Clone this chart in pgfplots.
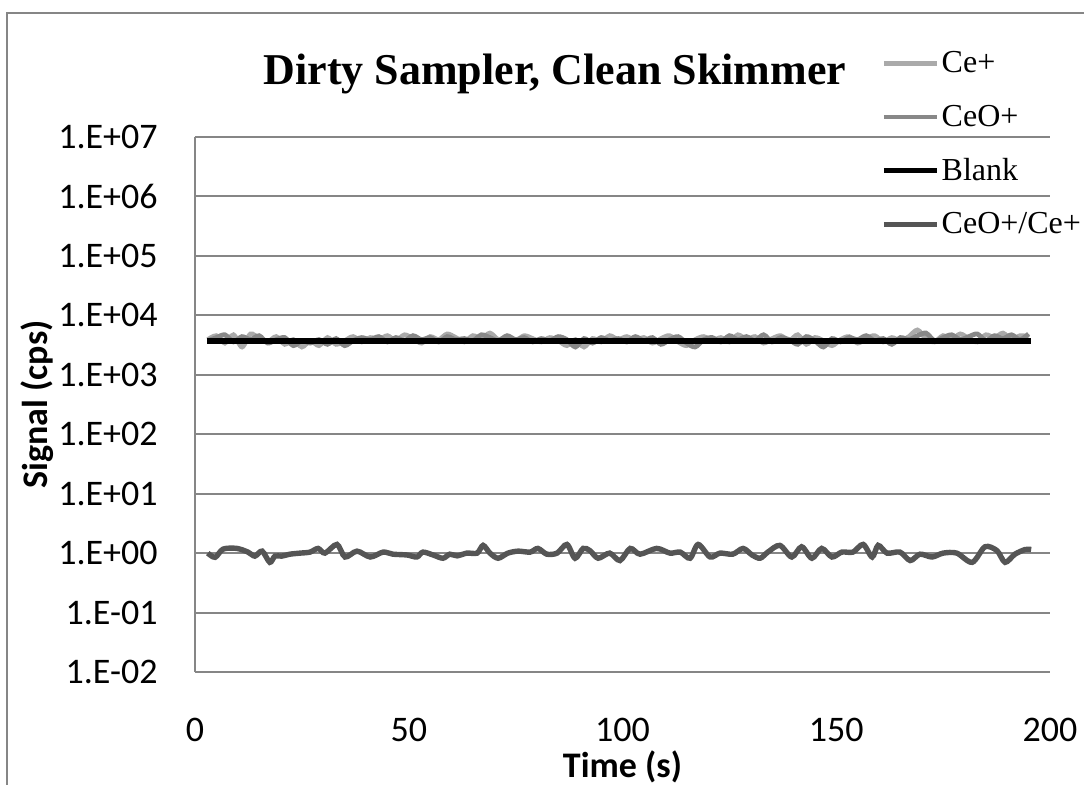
\documentclass[border=0pt]{standalone}
\usepackage{fontspec}
\setmainfont{Carlito}
\newfontfamily\tnr{Liberation Serif}
\usepackage{pgfplots}
\pgfplotsset{compat=1.18}
\definecolor{gridgray}{RGB}{134,134,134}
\definecolor{cegray}{RGB}{170,170,170}
\definecolor{ceogray}{RGB}{136,136,136}
\definecolor{ratiogray}{RGB}{85,85,85}
\begin{document}
\begin{tikzpicture}
\begin{axis}[
  scale only axis,
  width=427.5pt, height=267.5pt,
  xmin=0, xmax=200,
  ymode=log, ymin=1e-2, ymax=1e7,
  xtick={0,50,100,150,200},
  xticklabels={0,50,100,150,200},
  ytick={1e-2,1e-1,1,10,100,1000,1e4,1e5,1e6,1e7},
  yticklabels={1.E-02,1.E-01,1.E+00,1.E+01,1.E+02,1.E+03,1.E+04,1.E+05,1.E+06,1.E+07},
  minor ytick={},
  minor tick length=0pt,
  minor y tick style={draw=none},
  axis x line*=bottom, axis y line*=left,
  axis line style={draw=gridgray, line width=1pt, -},
  major tick length=0pt,
  ymajorgrids,
  grid style={draw=gridgray, line width=1pt},
  ticklabel style={font=\fontsize{18}{21}\selectfont},
  yticklabel style={inner sep=0pt, xshift=-18.5pt},
  xticklabel style={inner sep=0pt, yshift=-23pt},
  xlabel={Time (s)}, ylabel={Signal (cps)},
  label style={font=\bfseries\fontsize{18}{21}\selectfont},
  xlabel style={at={(axis description cs:0.5,-0.178)}, anchor=center},
  ylabel style={at={(axis description cs:-0.185,0.5)}, anchor=center, rotate=0},
  legend style={at={(axis description cs:0.802,1.164)}, anchor=north west,
    draw=none, fill=none, font=\tnr\fontsize{16}{19}\selectfont,
    row sep=12.5pt, inner sep=0pt, nodes={inner sep=1pt, anchor=west}},
  legend cell align=left,
  legend image code/.code={\draw[#1] (0pt,0pt) -- (26.5pt,0pt);},
]
\addplot[cegray, line width=2.4pt, smooth, tension=0.5] table {
x y
3 3900
5 4540
7 3420
9 4700
11 2940
13 4860
15 4060
17 3580
19 4380
21 3260
23 3900
25 2940
27 3740
29 3100
31 4220
33 3260
35 3740
37 4380
39 3580
41 4220
43 3900
45 4540
47 3740
49 4700
51 4060
53 3420
55 4380
57 3900
59 4860
61 4220
63 3580
65 4540
67 4060
69 5020
71 3900
73 4380
75 3740
77 4540
79 4060
81 3580
83 4220
85 3740
87 3100
89 3900
91 2940
93 4060
95 3580
97 4540
99 3900
101 4380
103 3740
105 4220
107 3420
109 4060
111 4540
113 3580
115 3100
117 3900
119 4380
121 3740
123 4220
125 3580
127 4700
129 3900
131 4380
133 3420
135 4060
137 4540
139 3740
141 4700
143 3260
145 4220
147 3740
149 3100
151 3900
153 4380
155 3420
157 4060
159 4540
161 3580
163 4220
165 3740
167 4380
169 5660
171 4060
173 3580
175 4540
177 3900
179 4860
181 4060
183 3580
185 4700
187 4220
189 5020
191 3900
193 4540
195 4380
};
\addlegendentry{Ce+}
\addplot[ceogray, line width=2.4pt, smooth, tension=0.5] table {
x y
3 3740
5 4220
7 4700
9 3580
11 4380
13 3900
15 4540
17 3420
19 3900
21 4220
23 3100
25 3740
27 3420
29 3900
31 3260
33 4060
35 3100
37 3740
39 4220
41 3900
43 4380
45 3580
47 4220
49 3740
51 4540
53 3900
55 4220
57 3580
59 4380
61 3900
63 4060
65 3740
67 4700
69 4220
71 3740
73 4540
75 3900
77 4220
79 3580
81 4060
83 3740
85 4380
87 3900
89 2940
91 4060
93 3420
95 4220
97 3740
99 4060
101 3580
103 4380
105 3740
107 4220
109 3260
111 3900
113 4380
115 3420
117 2940
119 3900
121 4220
123 3580
125 4540
127 3900
129 4380
131 3740
133 4700
135 3580
137 4220
139 3900
141 3260
143 4380
145 3740
147 2940
149 4060
151 3580
153 4220
155 3900
157 4540
159 3740
161 4060
163 3260
165 4220
167 3900
169 4540
171 5020
173 3740
175 4220
177 4700
179 3900
181 4380
183 4860
185 3740
187 4540
189 4060
191 4700
193 3900
195 4860
};
\addlegendentry{CeO+}
\addplot[black, line width=2.8pt] table {
x y
2.8 3700
195.6 3700
};
\addlegendentry{Blank}
\addplot[ratiogray, line width=2.7pt, smooth, tension=0.5] table {
x y
3 1.0
4.7 0.85
6.6 1.17
9.8 1.2
12.4 1.04
14 0.89
15.7 1.08
17.5 0.7
18.7 0.89
20.3 0.89
22.2 0.96
24.6 1.0
26.9 1.04
28.8 1.2
30.4 1.0
33.2 1.4
35.1 0.86
37.9 1.08
41 0.86
44 1.04
46.3 0.96
49.6 0.93
51.9 0.86
53.3 1.04
55.7 0.93
58 0.82
59.6 0.96
61.3 0.9
63.6 1.0
66 1.0
67.4 1.35
69 1.0
70.9 0.82
73.2 1.0
75.6 1.08
78.4 1.04
80.2 1.2
82.3 0.96
84.7 1.0
87 1.4
88.9 0.82
90.8 1.2
92.4 1.1
94.3 0.82
97 1.0
99.4 0.75
101.8 1.2
104.1 0.96
108 1.2
111.1 1.0
113.5 1.04
115.8 0.82
117.7 1.4
120.5 0.86
122.8 1.0
125.8 0.96
128.2 1.2
130.3 0.93
132.2 0.82
134 1.04
136.8 1.35
139.6 0.86
141.9 1.28
144.3 0.82
146.6 1.2
149 0.86
151.3 1.04
153.9 1.04
156.3 1.4
158.4 0.86
159.8 1.35
161.9 1.0
164.9 1.04
167.3 0.75
169.6 0.96
172.4 0.86
175 1.0
178.2 1.0
181.8 0.7
184.8 1.28
187.6 1.1
189.5 0.7
191.8 0.96
194.2 1.15
195.6 1.15
};
\addlegendentry{CeO+/Ce+}
\end{axis}
\node[font=\tnr\bfseries\fontsize{22}{26}\selectfont, inner sep=0pt] at (180pt,299pt) {Dirty Sampler, Clean Skimmer};
\draw[gridgray, line width=1pt] (-94pt,-80pt) -- (-94pt,329.5pt) -- (460pt,329.5pt);
\pgfresetboundingbox
\useasboundingbox (-97.5pt,-56pt) rectangle (444.5pt,336pt);
\end{tikzpicture}
\end{document}
